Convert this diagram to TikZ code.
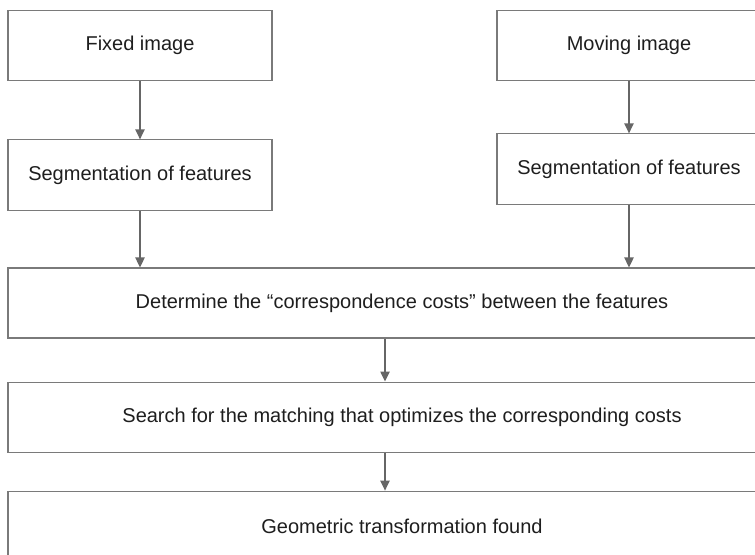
\documentclass[tikz,border=0pt]{standalone}
\usepackage{fontspec}
\setmainfont{Liberation Sans}
\usetikzlibrary{arrows.meta,positioning}

\definecolor{boxline}{HTML}{7A7A7A}
\definecolor{arrowline}{HTML}{666666}
\definecolor{labeltext}{HTML}{1E1E1E}

\begin{document}
\begin{tikzpicture}[
  x=0.75pt, y=-0.75pt,
  stepbox/.style={draw=boxline, line width=0.8pt, rectangle, minimum width=198pt,
    minimum height=53pt, inner sep=2pt, align=center, text=labeltext,
    font=\fontsize{15}{18}\selectfont},
  widebox/.style={stepbox, minimum width=591pt, minimum height=52.5pt},
  flow/.style={draw=arrowline, line width=1pt, -{Triangle[length=7.5pt, width=7pt]}},
  >=Latex
]
\useasboundingbox (0,0) rectangle (755,555);
\clip (0,0) rectangle (755,555);

% --- Top row ---
\node[stepbox] (fixed)  at (140,45.5) {Fixed image};
\node[stepbox] (moving) at (629,45.5) {Moving image};

\node[stepbox, below=43.5pt of fixed]  (segfixed)  {Segmentation of features};
\node[stepbox, below=39pt of moving]   (segmoving) {Segmentation of features};

% --- Wide steps ---
\node[widebox] (costs) at (402,303) {Determine the “correspondence costs” between the features};
\node[widebox, below=32.25pt of costs]  (search) {Search for the matching that optimizes the corresponding costs};
\node[widebox, below=28.5pt of search]  (found)  {Geometric transformation found};

\coordinate (mid) at (385,0);

% --- Arrows ---
\draw[flow] (fixed)     -- (segfixed);
\draw[flow] (moving)    -- (segmoving);
\draw[flow] (segfixed)  -- (segfixed.south |- costs.north);
\draw[flow] (segmoving) -- (segmoving.south |- costs.north);
\draw[flow] (costs.south -| mid)  -- (search.north -| mid);
\draw[flow] (search.south -| mid) -- (found.north -| mid);

\end{tikzpicture}
\end{document}
